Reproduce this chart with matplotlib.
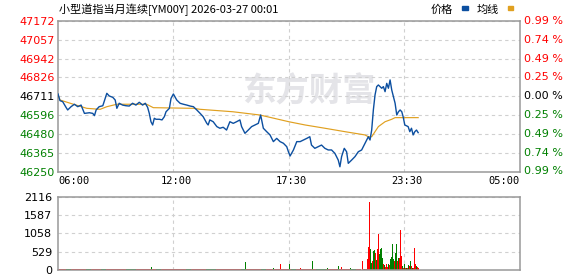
import matplotlib
matplotlib.use("Agg")
import matplotlib.pyplot as plt
from matplotlib.patches import Rectangle
from matplotlib.transforms import offset_copy

plt.rcParams['font.family'] = ['DejaVu Sans']

title = "小型道指当月连续[YM00Y] 2026-03-27 00:01"
prev_close = 46711
price_range = 461          # half height of the price scale
vol_max = 2116

# session minutes counted from 06:00 (1380 min session)
time_ticks = [0, 345, 690, 1035, 1380]
time_labels = ["06:00", "12:00", "17:30", "23:30", "05:00"]

price_t = [0, 6, 14, 24, 29, 39, 49, 59, 69, 79, 94, 104, 109, 114, 123, 134, 141, 146,
           153, 164, 171, 176, 183, 193, 203, 213, 223, 233, 243, 253, 261, 268, 273, 278,
           283, 288, 293, 303, 311, 318, 323, 333, 338, 345, 355, 365, 375, 385, 395, 405,
           415, 425, 434, 445, 449, 454, 464, 475, 484, 494, 504, 514, 524, 534, 544, 549,
           559, 569, 579, 589, 599, 606, 614, 624, 634, 644, 654, 664, 674, 684, 689, 694,
           704, 714, 724, 734, 744, 753, 758, 768, 778, 788, 798, 808, 818, 828, 838, 843,
           848, 856, 863, 868, 878, 888, 898, 908, 918, 928, 933, 938, 943, 948, 953, 958,
           968, 973, 978, 983, 988, 993, 998, 1003, 1008, 1013, 1018, 1023, 1028, 1032,
           1037, 1047, 1052, 1057, 1062, 1067, 1072, 1077]
price_v = [46725, 46684, 46678, 46643, 46627, 46647, 46662, 46647, 46657, 46606, 46610,
           46606, 46592, 46627, 46647, 46653, 46698, 46729, 46713, 46704, 46688, 46637,
           46668, 46657, 46653, 46651, 46668, 46657, 46674, 46657, 46668, 46643, 46606,
           46555, 46535, 46576, 46570, 46570, 46566, 46586, 46616, 46637, 46698, 46725,
           46688, 46668, 46662, 46657, 46651, 46647, 46627, 46606, 46586, 46545, 46535,
           46566, 46555, 46525, 46515, 46521, 46504, 46555, 46545, 46555, 46566, 46525,
           46484, 46504, 46525, 46535, 46545, 46596, 46515, 46494, 46474, 46433, 46453,
           46433, 46423, 46402, 46371, 46345, 46382, 46433, 46433, 46443, 46453, 46463,
           46412, 46392, 46402, 46412, 46392, 46382, 46382, 46361, 46320, 46279, 46341,
           46392, 46371, 46300, 46320, 46341, 46371, 46382, 46423, 46463, 46443, 46504,
           46627, 46719, 46770, 46780, 46760, 46770, 46739, 46790, 46760, 46811, 46749,
           46708, 46668, 46596, 46616, 46627, 46616, 46586, 46535, 46525, 46494, 46515,
           46474, 46494, 46504, 46488]

avg_t = [0, 6, 46, 86, 126, 146, 176, 265, 285, 405, 425, 523, 604, 690, 739, 798, 858,
         918, 928, 938, 948, 958, 978, 998, 1008, 1032, 1077]
avg_v = [46719, 46688, 46662, 46637, 46631, 46647, 46662, 46662, 46641, 46637, 46631,
         46616, 46596, 46555, 46535, 46515, 46494, 46474, 46463, 46463, 46494, 46525,
         46555, 46570, 46580, 46580, 46580]

# quiet hours volume (15 min buckets)
base_t = list(range(0, 901, 15))
base_v = [30, 25, 20, 35, 25, 30, 20, 25, 30, 35,
          20, 25, 30, 25, 20, 30, 35, 25, 20, 30,
          25, 30, 20, 25, 35, 30, 25, 20, 30, 25,
          35, 25, 20, 30, 25, 30, 20, 35, 25, 30,
          25, 20, 30, 35, 25, 20, 30, 25, 30, 20,
          25, 35, 30, 25, 20, 30, 25, 30, 35, 25,
          30]
base_c = "rrgrrrgrrg" "rrrrggrrrr" "grrrrrgrrr" "ggrrrrrgrr" "rgrrrrrgrr" "rrggrrrrrg" "r"

spike_t = [280, 560, 644, 665, 691, 726, 760, 805, 840, 847, 874]
spike_v = [95, 231, 58, 173, 173, 58, 260, 58, 115, 92, 58]
spike_c = "gggrgrgggrg"

# active period, 3 min bars
act_t = list(range(912, 1078, 3))
act_v = [260, 30, 40, 30, 320, 660, 1963, 600, 210, 260, 550, 577, 500, 300, 597, 1049,
         452, 597, 645, 356, 164, 135, 96, 164, 96, 164, 135, 308, 375, 741, 308, 260,
         481, 741, 260, 356, 356, 1145, 404, 116, 70, 164, 70, 70, 70, 135, 116, 260,
         116, 70, 70, 626, 164, 116, 96, 70]
act_c = "rrgrrrrggr" "ggrgrrgggg" "rgrrrgrggg" "grggrgrrrg" "rgrgrgrgrg" "rrrgrr"

RED = "#ff0000"
GREEN = "#008000"
BLUE = "#0c4fa0"
GOLD = "#e0a020"
FRAME = "#999999"
GRID = "#d0d0d0"
cmap = {"r": RED, "g": GREEN}

W, H = 578, 276
fig = plt.figure(figsize=(W / 100, H / 100), dpi=100)
ax = fig.add_axes([58 / W, 1 - 171.5 / H, 461.5 / W, 150.5 / H])
axv = fig.add_axes([58 / W, 1 - 270 / H, 461.5 / W, 73.3 / H])

for a in (ax, axv):
    a.set_xlim(0, 1380)
    for s in a.spines.values():
        s.set_color(FRAME)
        s.set_linewidth(1.1)
    a.set_axisbelow(True)
    a.grid(True, color=GRID, linestyle=(0, (3, 3)), linewidth=0.8)
    a.tick_params(length=0)
    a.set_xticks(time_ticks[1:-1])

# price panel
step = price_range / 4
ticks = [prev_close + k * step for k in range(-4, 5)]
ax.set_ylim(ticks[0], ticks[-1])
ax.set_yticks(ticks)
ax.set_yticklabels([f"{v:.0f}" for v in ticks], fontsize=8)
ax.tick_params(axis="y", pad=2.2)
ax.set_xticklabels([])
ytf = ax.get_yaxis_transform()
for v, lab in zip(ticks, ax.get_yticklabels()):
    c = RED if v > prev_close + 1 else (GREEN if v < prev_close - 1 else "black")
    lab.set_color(c)
    pct = abs(v - prev_close) / prev_close * 100
    ax.text(1.01, v, f"{pct:.2f} %", transform=ytf, ha="left", va="center",
            fontsize=8, color=c, clip_on=False)

# watermark
ax.text(0.544, 0.53, "东方财富", transform=ax.transAxes, ha="center", va="center",
        fontsize=24, fontweight="bold", color="#e4e4e8", zorder=0.4,
        family=["Noto Sans CJK SC", "DejaVu Sans"])

ax.plot(avg_t, avg_v, color=GOLD, linewidth=0.85, zorder=3)
ax.plot(price_t, price_v, color=BLUE, linewidth=1.0, zorder=4)

xtf = ax.get_xaxis_transform()
for i, (t, lab) in enumerate(zip(time_ticks, time_labels)):
    ha = "left" if i == 0 else ("right" if i == len(time_ticks) - 1 else "center")
    dx = 3 if 0 < i < len(time_ticks) - 1 else 0
    tr = offset_copy(xtf, fig=fig, x=dx, y=-10, units="dots")
    ax.text(t, 0, lab, transform=tr, ha=ha, va="center", fontsize=7.5,
            family="DejaVu Sans Mono", clip_on=False)

# volume panel
axv.set_ylim(0, vol_max)
axv.set_yticks([0, 529, 1058, 1587, 2116])
axv.set_yticklabels(["0", "529", "1058", "1587", "2116"], fontsize=8)
axv.tick_params(axis="y", pad=4)
axv.set_xticklabels([])
axv.bar(base_t, base_v, width=15, color=[cmap[c] for c in base_c], linewidth=0)
axv.bar(spike_t, spike_v, width=3, color=[cmap[c] for c in spike_c], linewidth=0)
axv.bar(act_t, act_v, width=3, color=[cmap[c] for c in act_c], linewidth=0)

# header
cjk = ["Noto Sans CJK SC", "DejaVu Sans"]
fig.text(59 / W, 1 - 9.5 / H, title, ha="left", va="center", fontsize=8, family=cjk)
fig.text(431 / W, 1 - 9.5 / H, "价格", ha="left", va="center", fontsize=8, family=cjk)
fig.text(477 / W, 1 - 9.5 / H, "均线", ha="left", va="center", fontsize=8, family=cjk)
fig.patches.append(Rectangle((462 / W, 1 - 10 / H), 5.5 / W, 3.5 / H, color=BLUE,
                             transform=fig.transFigure))
fig.patches.append(Rectangle((507.5 / W, 1 - 10 / H), 5.5 / W, 3.5 / H, color=GOLD,
                             transform=fig.transFigure))

fig.savefig("out.png", dpi=100)
